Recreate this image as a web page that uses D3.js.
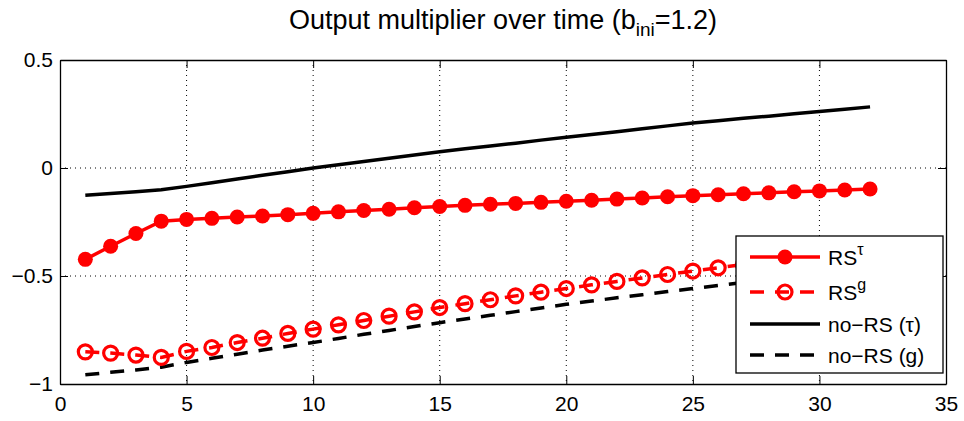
<!DOCTYPE html>
<html>
<head>
<meta charset="utf-8">
<script src="https://cdn.jsdelivr.net/npm/d3@7"></script>
<style>
  body { margin: 0; background: #fff; }
  svg { display: block; font-family: "Liberation Sans", Arial, sans-serif; }
</style>
</head>
<body>
<div class="chart"></div>
<script>
var svgWidth = 964;
var svgHeight = 421;

// chart data
var periods = d3.range(1, 33);
var rsTau = [-0.423, -0.362, -0.303, -0.246, -0.238, -0.233, -0.227, -0.222, -0.216, -0.210,
  -0.203, -0.197, -0.191, -0.184, -0.178, -0.173, -0.168, -0.164, -0.159, -0.154,
  -0.149, -0.144, -0.139, -0.133, -0.128, -0.124, -0.119, -0.115, -0.110, -0.106, -0.102, -0.097];
var rsG = [-0.851, -0.857, -0.866, -0.877, -0.849, -0.831, -0.808, -0.788, -0.766, -0.746,
  -0.726, -0.706, -0.686, -0.666, -0.646, -0.628, -0.610, -0.592, -0.575, -0.558,
  -0.541, -0.525, -0.509, -0.493, -0.477, -0.462, -0.447, -0.432, -0.418, -0.404, -0.390, -0.377];
var noRsTau = [-0.126, -0.118, -0.110, -0.101, -0.085, -0.068, -0.051, -0.034, -0.017, 0.000,
  0.015, 0.030, 0.045, 0.060, 0.075, 0.089, 0.102, 0.115, 0.129, 0.142,
  0.155, 0.168, 0.182, 0.195, 0.208, 0.219, 0.230, 0.240, 0.251, 0.262, 0.272, 0.283];
var noRsG = [-0.957, -0.946, -0.935, -0.922, -0.900, -0.881, -0.862, -0.843, -0.825, -0.808,
  -0.789, -0.770, -0.752, -0.734, -0.716, -0.699, -0.682, -0.665, -0.648, -0.631,
  -0.616, -0.601, -0.587, -0.572, -0.558, -0.544, -0.530, -0.516, -0.503, -0.490, -0.477, -0.464];
var xTicks = [0, 5, 10, 15, 20, 25, 30, 35];
var yTicks = [-1, -0.5, 0, 0.5];

var margin = { top: 60, right: 18, bottom: 37, left: 60 };
var width = svgWidth - margin.left - margin.right;
var height = svgHeight - margin.top - margin.bottom;

var svg = d3.select(".chart")
  .append("svg")
  .attr("width", svgWidth)
  .attr("height", svgHeight);

var chartGroup = svg.append("g")
  .attr("transform", `translate(${margin.left}, ${margin.top})`);

var xScale = d3.scaleLinear().domain([0, 35]).range([0, width]);
var yScale = d3.scaleLinear().domain([-1, 0.5]).range([height, 0]);

// dotted grid
chartGroup.selectAll(".gx")
  .data(xTicks.slice(1, -1))
  .enter().append("line")
  .attr("x1", d => xScale(d)).attr("x2", d => xScale(d))
  .attr("y1", 0).attr("y2", height)
  .attr("stroke", "#000").attr("stroke-width", 1)
  .attr("stroke-dasharray", "1,4");

chartGroup.selectAll(".gy")
  .data(yTicks.slice(1, -1))
  .enter().append("line")
  .attr("x1", 0).attr("x2", width)
  .attr("y1", d => yScale(d)).attr("y2", d => yScale(d))
  .attr("stroke", "#000").attr("stroke-width", 1)
  .attr("stroke-dasharray", "1,4");

// axes, ticks inward on all sides
var fmtY = d => String(d).replace("-", "\u2212");
chartGroup.append("g")
  .attr("transform", `translate(0, ${height})`)
  .call(d3.axisBottom(xScale).tickValues(xTicks).tickSizeInner(-8).tickSizeOuter(0).tickPadding(12));
chartGroup.append("g")
  .call(d3.axisLeft(yScale).tickValues(yTicks).tickFormat(fmtY).tickSizeInner(-8).tickSizeOuter(0).tickPadding(7));
chartGroup.append("g")
  .call(d3.axisTop(xScale).tickValues(xTicks).tickSizeInner(-8).tickSizeOuter(0).tickFormat(""));
chartGroup.append("g")
  .attr("transform", `translate(${width}, 0)`)
  .call(d3.axisRight(yScale).tickValues(yTicks).tickSizeInner(-8).tickSizeOuter(0).tickFormat(""));

chartGroup.selectAll(".domain").attr("stroke", "#000").attr("stroke-width", 1.3);
chartGroup.selectAll(".tick line").attr("stroke", "#000").attr("stroke-width", 1);
chartGroup.selectAll(".tick text").attr("font-size", 21).attr("fill", "#000")
  .attr("font-family", "Liberation Sans, Arial, sans-serif");

var line = d3.line()
  .x((d, i) => xScale(periods[i]))
  .y(d => yScale(d));

// series
chartGroup.append("path").datum(noRsTau)
  .attr("d", line).attr("fill", "none")
  .attr("stroke", "#000").attr("stroke-width", 3.5);

chartGroup.append("path").datum(noRsG)
  .attr("d", line).attr("fill", "none")
  .attr("stroke", "#000").attr("stroke-width", 3.5)
  .attr("stroke-dasharray", "14,11");

chartGroup.append("path").datum(rsTau)
  .attr("d", line).attr("fill", "none")
  .attr("stroke", "#f00").attr("stroke-width", 3.5);
chartGroup.selectAll(".dotTau")
  .data(rsTau).enter().append("circle")
  .attr("cx", (d, i) => xScale(periods[i]))
  .attr("cy", d => yScale(d))
  .attr("r", 7.5).attr("fill", "#f00");

chartGroup.append("path").datum(rsG)
  .attr("d", line).attr("fill", "none")
  .attr("stroke", "#f00").attr("stroke-width", 3.5)
  .attr("stroke-dasharray", "14,11");
chartGroup.selectAll(".dotG")
  .data(rsG).enter().append("circle")
  .attr("cx", (d, i) => xScale(periods[i]))
  .attr("cy", d => yScale(d))
  .attr("r", 7).attr("fill", "none")
  .attr("stroke", "#f00").attr("stroke-width", 3.2);

// legend
var legend = svg.append("g").attr("transform", "translate(736, 236)");
legend.append("rect")
  .attr("width", 207).attr("height", 137)
  .attr("fill", "#fff").attr("stroke", "#000").attr("stroke-width", 1.3);

var legendRows = [
  { label: "RS", sup: "\u03c4", color: "#f00", dash: null, marker: "filled" },
  { label: "RS", sup: "g", color: "#f00", dash: "14,11", marker: "open" },
  { label: "no\u2212RS (\u03c4)", color: "#000", dash: null, marker: null },
  { label: "no\u2212RS (g)", color: "#000", dash: "14,11", marker: null }
];
var rowY = [21, 56, 88, 119];

legendRows.forEach(function (row, i) {
  var g = legend.append("g").attr("transform", `translate(0, ${rowY[i]})`);
  g.append("line")
    .attr("x1", 14).attr("x2", 84).attr("y1", 0).attr("y2", 0)
    .attr("stroke", row.color).attr("stroke-width", 3.5)
    .attr("stroke-dasharray", row.dash);
  if (row.marker === "filled") {
    g.append("circle").attr("cx", 49).attr("cy", 0).attr("r", 7.5).attr("fill", row.color);
  } else if (row.marker === "open") {
    g.append("circle").attr("cx", 49).attr("cy", 0).attr("r", 7)
      .attr("fill", "none").attr("stroke", row.color).attr("stroke-width", 3.2);
  }
  var t = g.append("text").attr("x", 92).attr("y", 8)
    .attr("font-size", 21).attr("fill", "#000");
  t.append("tspan").text(row.label);
  if (row.sup) {
    t.append("tspan").attr("dy", -10).attr("font-size", 16).text(row.sup);
  }
});

// title
var title = svg.append("text")
  .attr("x", 503).attr("y", 29)
  .attr("text-anchor", "middle")
  .attr("font-size", 27).attr("fill", "#000");
title.append("tspan").text("Output multiplier over time (b");
title.append("tspan").attr("dy", 7).attr("font-size", 19).text("ini");
title.append("tspan").attr("dy", -7).text("=1.2)");
</script>
</body>
</html>
